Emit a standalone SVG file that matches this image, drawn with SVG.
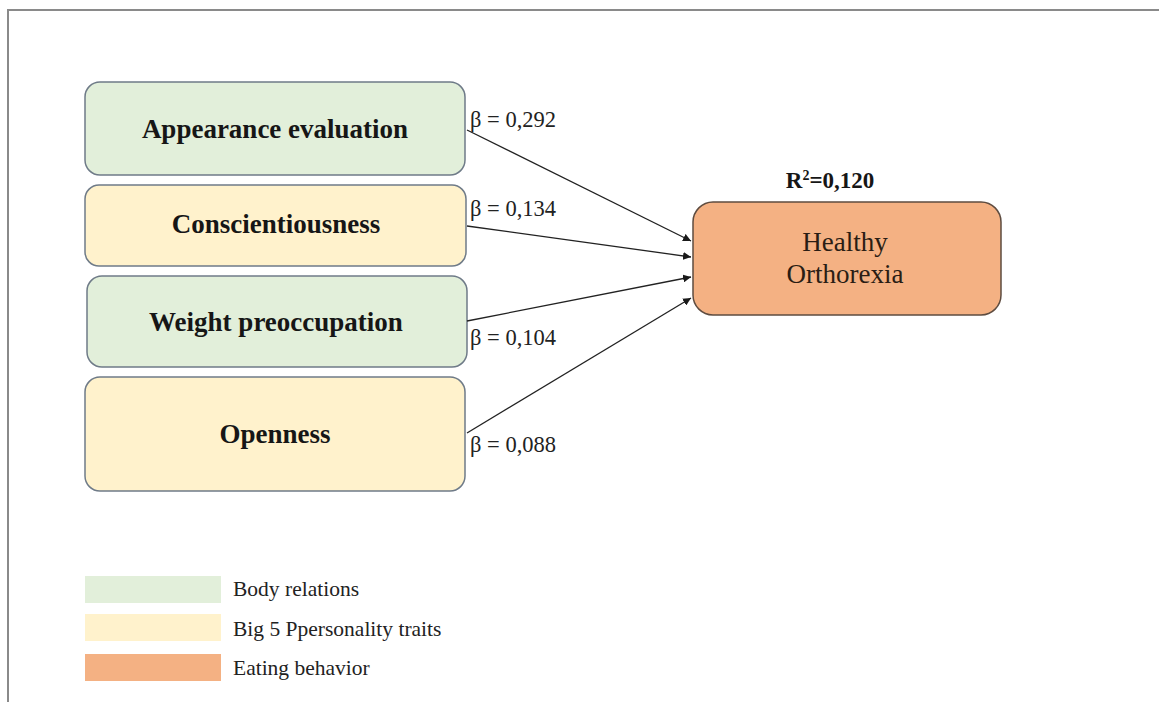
<svg xmlns="http://www.w3.org/2000/svg" width="1159" height="702" viewBox="0 0 1159 702">
  <defs>
    <marker id="arrow" viewBox="0 0 10 10" refX="10" refY="5" markerWidth="8" markerHeight="8" markerUnits="userSpaceOnUse" orient="auto">
      <path d="M0,0 L10,5 L0,10 z" fill="#1a1a1a"/>
    </marker>
    <style>
      .frame { stroke: #8a8a8a; stroke-width: 2; fill: none; }
      .box { stroke: #6f7b88; stroke-width: 1.5; }
      .green { fill: #e2efda; }
      .yellow { fill: #fff2cc; }
      .orange { fill: #f4b183; }
      .target { stroke: #5e4c40; stroke-width: 1.5; }
      .label { font-family: "Liberation Serif", "Times New Roman", serif; font-weight: bold; font-size: 27px; fill: #161616; text-anchor: middle; }
      .beta { font-family: "Liberation Serif", "Times New Roman", serif; font-size: 22.5px; fill: #222; }
      .tname { font-family: "Liberation Serif", "Times New Roman", serif; font-size: 27px; fill: #2a1d14; text-anchor: middle; }
      .r2 { font-family: "Liberation Serif", "Times New Roman", serif; font-weight: bold; font-size: 23px; fill: #161616; text-anchor: middle; }
      .legend { font-family: "Liberation Serif", "Times New Roman", serif; font-size: 21.5px; fill: #222; }
      .edge { stroke: #222; stroke-width: 1.3; fill: none; marker-end: url(#arrow); }
    </style>
  </defs>

  <rect width="1159" height="702" fill="#ffffff"/>
  <!-- page frame (top and left edges) -->
  <path class="frame" d="M8,702 L8,10 L1159,10"/>

  <!-- predictors -->
  <g id="node-appearance">
    <rect class="box green" x="85" y="82" width="380" height="93" rx="15"/>
    <text class="label" x="275" y="138">Appearance evaluation</text>
  </g>
  <g id="node-conscientiousness">
    <rect class="box yellow" x="85" y="185" width="381" height="81" rx="14"/>
    <text class="label" x="276" y="233">Conscientiousness</text>
  </g>
  <g id="node-weight">
    <rect class="box green" x="87" y="276" width="380" height="91" rx="15"/>
    <text class="label" x="276" y="331">Weight preoccupation</text>
  </g>
  <g id="node-openness">
    <rect class="box yellow" x="85" y="377" width="380" height="114" rx="15"/>
    <text class="label" x="275" y="443">Openness</text>
  </g>

  <!-- outcome -->
  <g id="node-orthorexia">
    <text class="r2" x="830" y="188">R<tspan font-size="14" dy="-8">2</tspan><tspan dy="8">=0,120</tspan></text>
    <rect class="target orange" x="693" y="202" width="308" height="113" rx="20"/>
    <text class="tname" x="845" y="251">Healthy</text>
    <text class="tname" x="845" y="283">Orthorexia</text>
  </g>

  <!-- paths with coefficients -->
  <g id="connectors">
    <line class="edge" x1="467" y1="130" x2="691" y2="241"/>
    <line class="edge" x1="467" y1="226" x2="691" y2="257"/>
    <line class="edge" x1="467" y1="321" x2="691" y2="277"/>
    <line class="edge" x1="467" y1="433" x2="691" y2="298"/>
    <text class="beta" x="470" y="127">β = 0,292</text>
    <text class="beta" x="470" y="216">β = 0,134</text>
    <text class="beta" x="470" y="345">β = 0,104</text>
    <text class="beta" x="470" y="452">β = 0,088</text>
  </g>

  <!-- legend -->
  <g id="legend">
    <rect class="green" x="85" y="576" width="136" height="27"/>
    <text class="legend" x="233" y="596">Body relations</text>
    <rect class="yellow" x="85" y="614" width="136" height="27"/>
    <text class="legend" x="233" y="636">Big 5 Ppersonality traits</text>
    <rect class="orange" x="85" y="654" width="136" height="27"/>
    <text class="legend" x="233" y="675">Eating behavior</text>
  </g>
</svg>
